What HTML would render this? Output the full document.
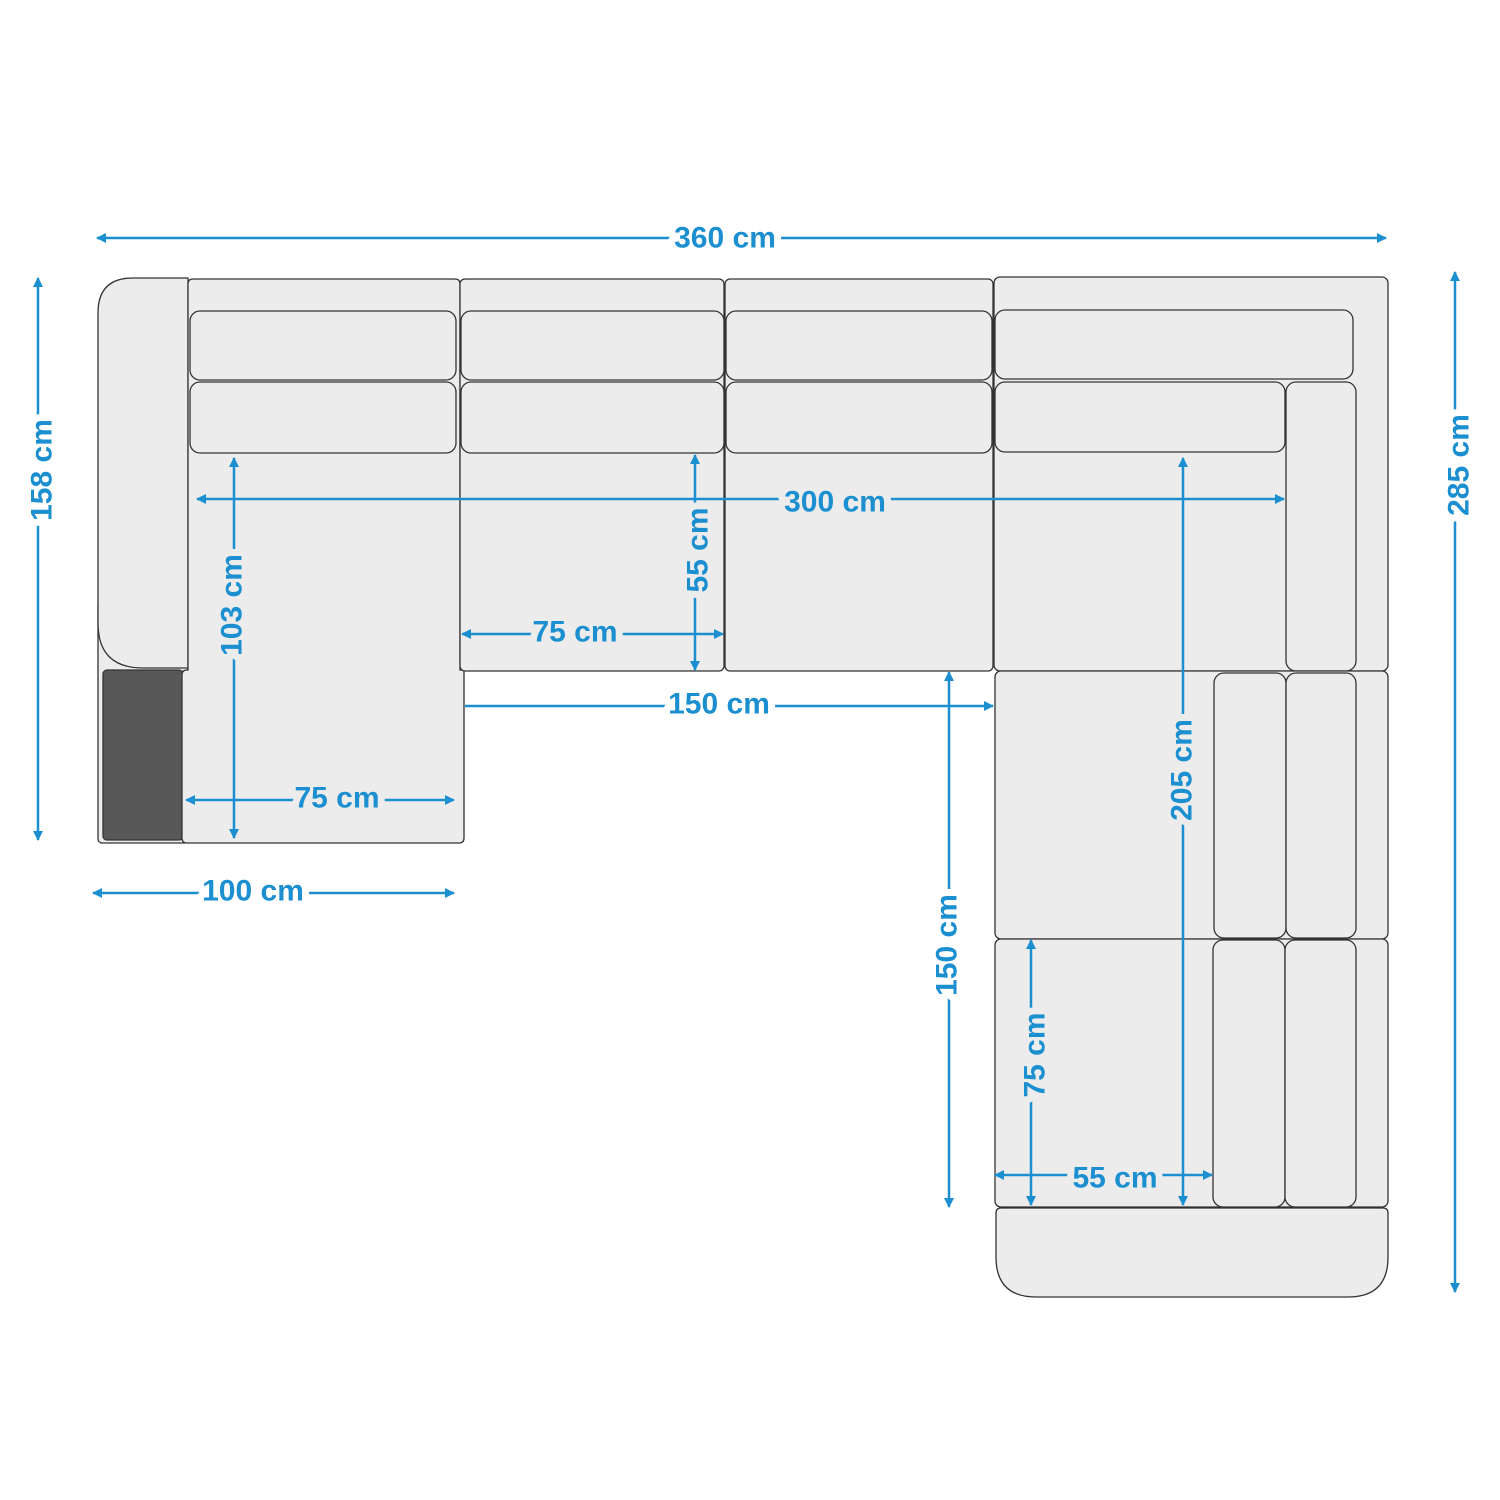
<!DOCTYPE html>
<html><head><meta charset="utf-8"><style>
html,body{margin:0;padding:0;background:#fff}
svg{display:block}
text{font-family:"Liberation Sans",sans-serif;font-weight:bold;font-size:30px;fill:#1b8fd0;text-anchor:middle;dominant-baseline:central;paint-order:stroke;stroke-width:14px;stroke-linejoin:round}
.w{stroke:#fff}.g{stroke:#ececec}
</style></head><body>
<svg width="1500" height="1500" viewBox="0 0 1500 1500" xmlns="http://www.w3.org/2000/svg">
<defs>
<marker id="a" viewBox="0 0 10 10" refX="9" refY="5" markerWidth="4" markerHeight="4" orient="auto-start-reverse"><path d="M0,0 L10,5 L0,10 z" fill="#1b8fd0"/></marker>
</defs>
<g fill="#ececec" stroke="#333" stroke-width="1.3">
<rect x="98" y="600" width="90" height="243" rx="4"/>
<path d="M133,278 H188 V668 H143 Q98,668 98,623 V313 Q98,278 133,278 Z"/>
<rect x="103" y="670" width="80" height="170" rx="4" fill="#585858"/>
<path d="M193,279 H455 Q460,279 460,284 V670 H464 V838 Q464,843 459,843 H187 Q182,843 182,838 V675 Q182,670 187,670 H188 V284 Q188,279 193,279 Z"/>
<rect x="190" y="311" width="266" height="69" rx="10"/>
<rect x="190" y="382" width="266" height="71" rx="10"/>
<rect x="460" y="279" width="264" height="392" rx="5"/>
<rect x="461" y="311" width="263" height="69" rx="10"/>
<rect x="461" y="382" width="263" height="71" rx="10"/>
<rect x="725" y="279" width="268" height="392" rx="5"/>
<rect x="726" y="311" width="266" height="69" rx="10"/>
<rect x="726" y="382" width="266" height="71" rx="10"/>
<rect x="994" y="277" width="394" height="394" rx="6"/>
<rect x="995" y="310" width="358" height="69" rx="10"/>
<rect x="995" y="382" width="290" height="70" rx="10"/>
<rect x="1286" y="382" width="70" height="289" rx="10"/>
<rect x="995" y="671" width="393" height="268" rx="6"/>
<rect x="1214" y="673" width="72" height="265" rx="10"/>
<rect x="1286" y="673" width="70" height="265" rx="10"/>
<rect x="995" y="939" width="393" height="268" rx="6"/>
<rect x="1213" y="940" width="72" height="267" rx="10"/>
<rect x="1285" y="940" width="71" height="267" rx="10"/>
<path d="M1001,1208 H1383 Q1388,1208 1388,1213 V1257 Q1388,1297 1348,1297 H1036 Q996,1297 996,1257 V1213 Q996,1208 1001,1208 Z"/>
</g>
<g stroke="#1b8fd0" stroke-width="2.5" fill="none" marker-start="url(#a)" marker-end="url(#a)">
<line x1="97" y1="238" x2="1386" y2="238"/>
<line x1="38" y1="278" x2="38" y2="840"/>
<line x1="1455" y1="272" x2="1455" y2="1292"/>
<line x1="197" y1="499" x2="1284" y2="499"/>
<line x1="234" y1="458" x2="234" y2="838"/>
<line x1="695" y1="455" x2="695" y2="670"/>
<line x1="462" y1="634" x2="723" y2="634"/>
<line x1="465" y1="706" x2="993" y2="706" marker-start="none"/>
<line x1="186" y1="800" x2="454" y2="800"/>
<line x1="93" y1="893" x2="454" y2="893"/>
<line x1="949" y1="672" x2="949" y2="1207"/>
<line x1="1183" y1="458" x2="1183" y2="1205"/>
<line x1="1031" y1="940" x2="1031" y2="1205"/>
<line x1="995" y1="1175" x2="1212" y2="1175"/>
</g>
<text class="w" x="725" y="238">360 cm</text>
<text class="w" x="42" y="470" transform="rotate(-90 42 470)">158 cm</text>
<text class="w" x="1459" y="465" transform="rotate(-90 1459 465)">285 cm</text>
<text class="g" x="835" y="502">300 cm</text>
<text class="g" x="232" y="605" transform="rotate(-90 232 605)">103 cm</text>
<text class="g" x="698" y="550" transform="rotate(-90 698 550)">55 cm</text>
<text class="g" x="575" y="632">75 cm</text>
<text class="w" x="719" y="704">150 cm</text>
<text class="g" x="337" y="798">75 cm</text>
<text class="w" x="253" y="891">100 cm</text>
<text class="w" x="947" y="945" transform="rotate(-90 947 945)">150 cm</text>
<text class="g" x="1182" y="770" transform="rotate(-90 1182 770)">205 cm</text>
<text class="g" x="1035" y="1055" transform="rotate(-90 1035 1055)">75 cm</text>
<text class="g" x="1115" y="1178">55 cm</text>
</svg>
</body></html>
